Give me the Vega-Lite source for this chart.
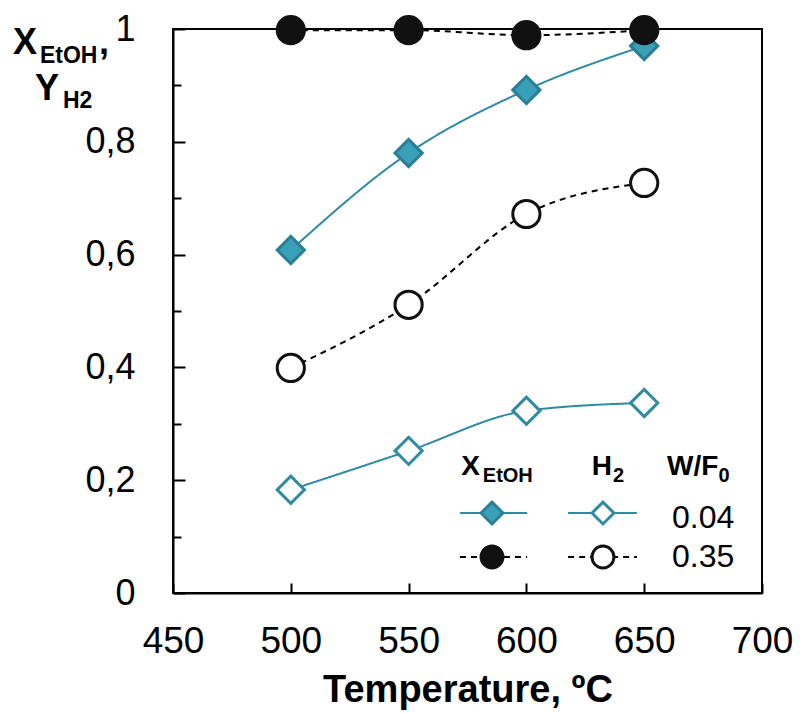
{
  "$schema": "https://vega.github.io/schema/vega-lite/v6.json",
  "width": 589,
  "height": 564,
  "autosize": {"type": "none"},
  "padding": {"left": 173, "top": 29, "right": 38, "bottom": 120},
  "background": "white",
  "config": {"view": {"stroke": "black", "strokeWidth": 2}, "font": "Liberation Sans"},
  "datasets": {
    "pts": [
      {"T": 500, "v": 0.608, "s": "X004"}, {"T": 550, "v": 0.780, "s": "X004"}, {"T": 600, "v": 0.892, "s": "X004"}, {"T": 650, "v": 0.970, "s": "X004"},
      {"T": 500, "v": 0.183, "s": "H2004"}, {"T": 550, "v": 0.252, "s": "H2004"}, {"T": 600, "v": 0.323, "s": "H2004"}, {"T": 650, "v": 0.337, "s": "H2004"},
      {"T": 500, "v": 0.399, "s": "H2035"}, {"T": 550, "v": 0.511, "s": "H2035"}, {"T": 600, "v": 0.672, "s": "H2035"}, {"T": 650, "v": 0.727, "s": "H2035"},
      {"T": 500, "v": 0.998, "s": "X035"}, {"T": 550, "v": 0.998, "s": "X035"}, {"T": 600, "v": 0.989, "s": "X035"}, {"T": 650, "v": 0.998, "s": "X035"}
    ],
    "legline": [
      {"s": "X004", "T": 571.8, "T2": 600.3, "v": 0.1418},
      {"s": "H2004", "T": 617.7, "T2": 646.9, "v": 0.1418},
      {"s": "H2035", "T": 617.7, "T2": 646.9, "v": 0.0638},
      {"s": "X035", "T": 571.8, "T2": 600.3, "v": 0.0638}
    ],
    "legpt": [
      {"s": "X004", "T": 585.4, "v": 0.1418},
      {"s": "H2004", "T": 632.5, "v": 0.1418},
      {"s": "H2035", "T": 632.5, "v": 0.0638},
      {"s": "X035", "T": 585.4, "v": 0.0638}
    ],
    "big": [{"t": "X", "T": 382.1, "v": 0.9557}, {"t": ",", "T": 418.6, "v": 0.9557}, {"t": "Y", "T": 391.4, "v": 0.874}],
    "sub": [{"t": "EtOH", "T": 393.5, "v": 0.9397}, {"t": "H2", "T": 403.3, "v": 0.86}],
    "hdr": [{"t": "X", "T": 572.3, "v": 0.2092}, {"t": "H", "T": 627.7, "v": 0.2092}, {"t": "W/F", "T": 659.7, "v": 0.2092}],
    "hdrsub": [{"t": "EtOH", "T": 581.5, "v": 0.1968}, {"t": "2", "T": 636.8, "v": 0.1968}, {"t": "0", "T": 681.5, "v": 0.1968}],
    "vals": [{"t": "0.04", "T": 661.8, "v": 0.115}, {"t": "0.35", "T": 661.8, "v": 0.046}]
  },
  "layer": [
    {
      "data": {"name": "pts"},
      "mark": {"type": "line", "interpolate": "monotone", "strokeWidth": 2},
      "encoding": {
        "x": {"field": "T", "type": "quantitative", "scale": {"domain": [450, 700], "nice": false, "zero": false},
          "axis": {"values": [450, 500, 550, 600, 650, 700], "grid": false, "tickSize": -10, "tickWidth": 2, "tickColor": "black",
            "domainColor": "black", "domainWidth": 2, "labelFontSize": 37, "labelColor": "black", "labelPadding": 40, "labelFlush": false,
            "title": "Temperature, ºC", "titleFontSize": 38, "titleFontWeight": "bold", "titleColor": "black", "titlePadding": 12}},
        "y": {"field": "v", "type": "quantitative", "scale": {"domain": [0, 1], "nice": false},
          "axis": {"values": [0, 0.1, 0.2, 0.3, 0.4, 0.5, 0.6, 0.7, 0.8, 0.9, 1], "grid": false,
            "tickSize": {"condition": {"test": "round(datum.value*10)%2==1", "value": -8}, "value": -12},
            "tickWidth": 2, "tickColor": "black", "domainColor": "black", "domainWidth": 2,
            "labelFontSize": 36, "labelColor": "black", "labelPadding": 50, "labelFlush": false,
            "labelExpr": "round(datum.value*10)%2==0 ? replace(format(datum.value, '.1~f'), '.', ',') : ''",
            "title": null}},
        "detail": {"field": "s"},
        "color": {"field": "s", "scale": {"domain": ["X004", "H2004", "H2035", "X035"], "range": ["#2f8aa3", "#2f8aa3", "black", "black"]}, "legend": null},
        "strokeDash": {"field": "s", "scale": {"domain": ["X004", "H2004", "H2035", "X035"], "range": [[1, 0], [1, 0], [6, 5], [6, 5]]}, "legend": null}
      }
    },
    {
      "data": {"name": "legline"},
      "mark": {"type": "rule", "strokeWidth": 2},
      "encoding": {
        "x": {"field": "T", "type": "quantitative"},
        "x2": {"field": "T2"},
        "y": {"field": "v", "type": "quantitative"},
        "color": {"field": "s", "legend": null},
        "strokeDash": {"field": "s", "legend": null}
      }
    },
    {
      "data": {"name": "pts"},
      "mark": {"type": "point", "strokeWidth": 3, "opacity": 1, "fillOpacity": 1, "size": 740},
      "encoding": {
        "x": {"field": "T", "type": "quantitative"},
        "y": {"field": "v", "type": "quantitative"},
        "shape": {"field": "s", "scale": {"domain": ["X004", "H2004", "H2035", "X035"], "range": ["diamond", "diamond", "circle", "circle"]}, "legend": null},
        "fill": {"field": "s", "scale": {"domain": ["X004", "H2004", "H2035", "X035"], "range": ["#3a9fb8", "white", "white", "#111111"]}, "legend": null},
        "stroke": {"field": "s", "scale": {"domain": ["X004", "H2004", "H2035", "X035"], "range": ["#2b7f95", "#2f8aa3", "#111111", "#111111"]}, "legend": null}
      }
    },
    {
      "data": {"name": "legpt"},
      "mark": {"type": "point", "strokeWidth": 3, "opacity": 1, "fillOpacity": 1, "size": 480},
      "encoding": {
        "x": {"field": "T", "type": "quantitative"},
        "y": {"field": "v", "type": "quantitative"},
        "shape": {"field": "s", "legend": null},
        "fill": {"field": "s", "legend": null},
        "stroke": {"field": "s", "legend": null}
      }
    },
    {
      "data": {"name": "big"},
      "mark": {"type": "text", "align": "left", "baseline": "alphabetic", "fontSize": 36, "fontWeight": "bold", "color": "black"},
      "encoding": {
        "x": {"field": "T", "type": "quantitative"},
        "y": {"field": "v", "type": "quantitative"},
        "text": {"field": "t"}
      }
    },
    {
      "data": {"name": "sub"},
      "mark": {"type": "text", "align": "left", "baseline": "alphabetic", "fontSize": 23, "fontWeight": "bold", "color": "black"},
      "encoding": {
        "x": {"field": "T", "type": "quantitative"},
        "y": {"field": "v", "type": "quantitative"},
        "text": {"field": "t"}
      }
    },
    {
      "data": {"name": "hdr"},
      "mark": {"type": "text", "align": "left", "baseline": "alphabetic", "fontSize": 28, "fontWeight": "bold", "color": "black"},
      "encoding": {
        "x": {"field": "T", "type": "quantitative"},
        "y": {"field": "v", "type": "quantitative"},
        "text": {"field": "t"}
      }
    },
    {
      "data": {"name": "hdrsub"},
      "mark": {"type": "text", "align": "left", "baseline": "alphabetic", "fontSize": 20, "fontWeight": "bold", "color": "black"},
      "encoding": {
        "x": {"field": "T", "type": "quantitative"},
        "y": {"field": "v", "type": "quantitative"},
        "text": {"field": "t"}
      }
    },
    {
      "data": {"name": "vals"},
      "mark": {"type": "text", "align": "left", "baseline": "alphabetic", "fontSize": 32, "color": "black"},
      "encoding": {
        "x": {"field": "T", "type": "quantitative"},
        "y": {"field": "v", "type": "quantitative"},
        "text": {"field": "t"}
      }
    }
  ]
}
